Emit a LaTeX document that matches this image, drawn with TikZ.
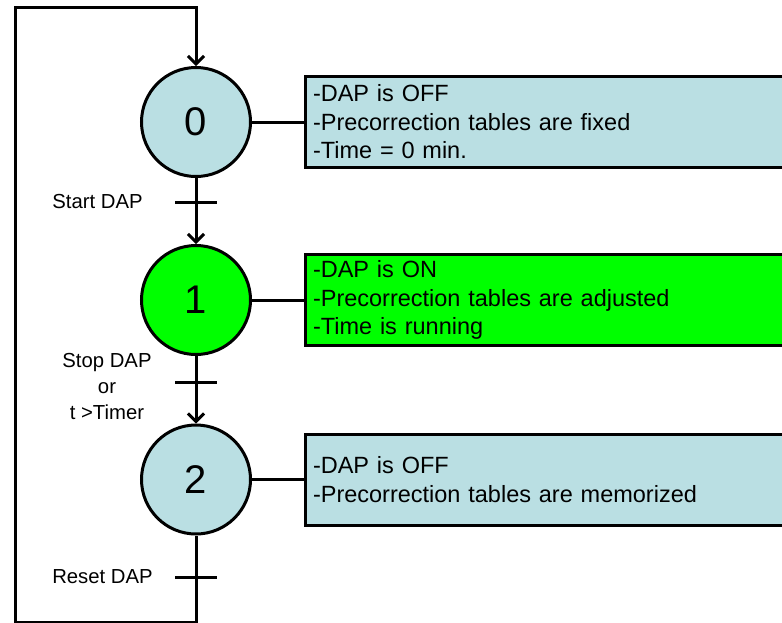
\documentclass[tikz,border=0pt]{standalone}
\usepackage{fontspec}
\setmainfont{Liberation Sans}
\usetikzlibrary{arrows.meta}
\definecolor{stepblue}{RGB}{186,223,227}
\definecolor{stepgreen}{RGB}{0,255,0}
\tikzset{
 stepcircle/.style={circle, draw, line width=3pt, minimum size=109pt, inner sep=0pt, font=\fontsize{40}{40}\selectfont},
 infobox/.style={rectangle, draw, line width=3pt, anchor=west, minimum height=91pt, text width=500pt, align=left, inner xsep=8pt, inner ysep=4pt, font=\fontsize{23.5}{28.5}\selectfont},
 flow/.style={line width=3pt},
 arr/.style={line width=3pt, -{Straight Barb[length=8pt,width=16pt]}},
 lbl/.style={font=\fontsize{20.3}{26}\selectfont, align=center, inner sep=0pt},
}
\begin{document}
\begin{tikzpicture}[x=1pt,y=-1pt]
\useasboundingbox (0,0) rectangle (782,622);
\clip (0,0) rectangle (782,622);
% steps
\node[stepcircle, fill=stepblue] (s0) at (196,122) {0};
\node[stepcircle, fill=stepgreen] (s1) at (196,300) {1};
\node[stepcircle, fill=stepblue] (s2) at (196,479.5) {2};
% info boxes
\node[infobox, fill=stepblue] (b0) at (303.5,122) {-DAP is OFF\\-Precorrection tables are fixed\\-Time = 0 min.};
\node[infobox, fill=stepgreen] (b1) at (303.5,300) {-DAP is ON\\-Precorrection tables are adjusted\\-Time is running};
\node[infobox, fill=stepblue] (b2) at (303.5,479.5) {-DAP is OFF\\-Precorrection tables are memorized};
\draw[flow] (s0.east) -- (b0.west);
\draw[flow] (s1.east) -- (b1.west);
\draw[flow] (s2.east) -- (b2.west);
% flow
\draw[arr] (s0) -- (s1);
\draw[arr] (s1) -- (s2);
\coordinate (c1) at (196,622.5);
\coordinate (c2) at (15,622.5);
\coordinate (c3) at (15,7);
\coordinate (c4) at (196,7);
\draw[arr, line join=miter] (s2.south) -- (c1) -- (c2) -- (c3) -- (c4) -- (s0.north);
% transitions
\coordinate (t0a) at (175,202); \coordinate (t0b) at (217,202);
\coordinate (t1a) at (175,382); \coordinate (t1b) at (217,382);
\coordinate (t2a) at (175,577); \coordinate (t2b) at (217,577);
\draw[flow] (t0a) -- (t0b);
\draw[flow] (t1a) -- (t1b);
\draw[flow] (t2a) -- (t2b);
\node[lbl] (l0) at (97.5,202) {Start DAP};
\node[lbl] (l1) at (107,387) {Stop DAP\\or\\t >Timer};
\node[lbl] (l2) at (102.5,577) {Reset DAP};
\end{tikzpicture}
\end{document}
